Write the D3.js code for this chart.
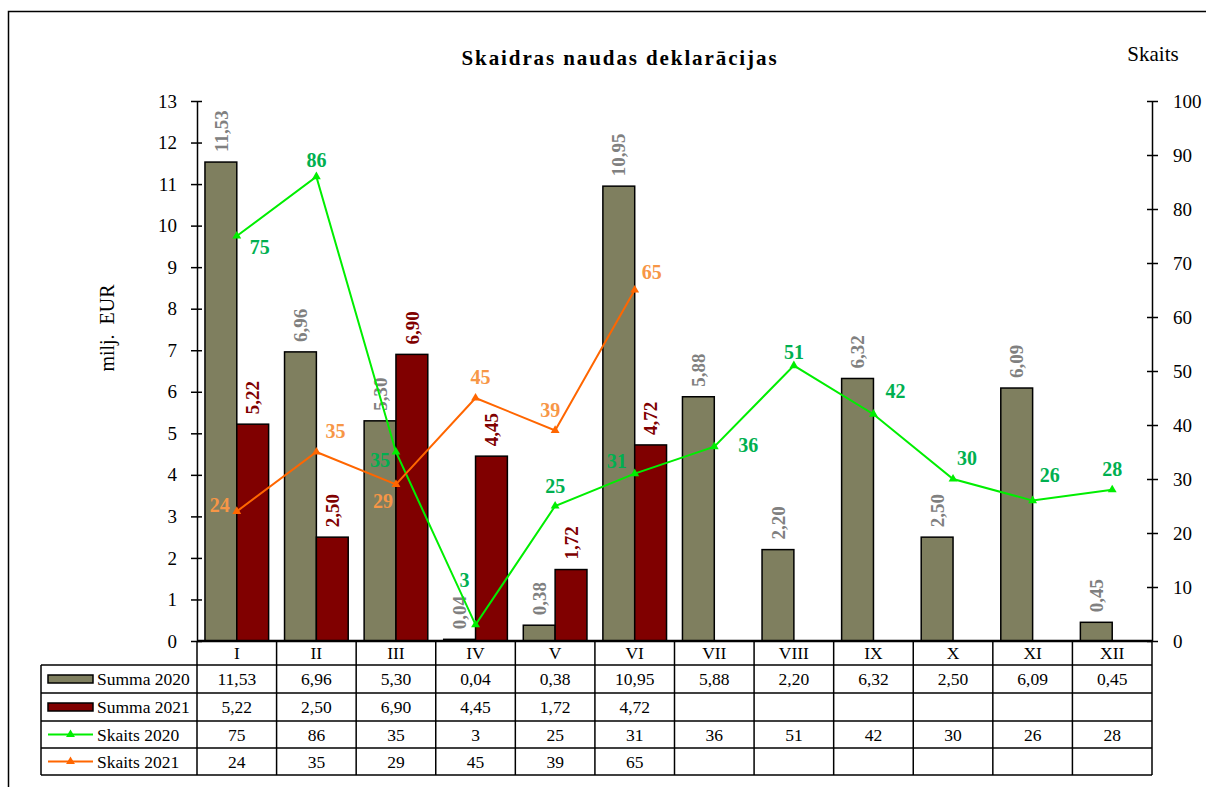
<!DOCTYPE html>
<html>
<head>
<meta charset="utf-8">
<script src="https://cdn.jsdelivr.net/npm/d3@7"></script>
<style>
  body { margin: 0; background: #fff; }
  svg { display: block; font-family: "Liberation Serif", "Times New Roman", serif; }
</style>
</head>
<body>
<svg width="1206" height="787"></svg>
<script>
// data
var months = ["I", "II", "III", "IV", "V", "VI", "VII", "VIII", "IX", "X", "XI", "XII"];
var summa2020 = [11.53, 6.96, 5.30, 0.04, 0.38, 10.95, 5.88, 2.20, 6.32, 2.50, 6.09, 0.45];
var summa2021 = [5.22, 2.50, 6.90, 4.45, 1.72, 4.72, null, null, null, null, null, null];
var skaits2020 = [75, 86, 35, 3, 25, 31, 36, 51, 42, 30, 26, 28];
var skaits2021 = [24, 35, 29, 45, 39, 65, null, null, null, null, null, null];
var leftTicks = d3.range(0, 14);
var rightTicks = d3.range(0, 101, 10);
var seriesNames = ["Summa 2020", "Summa 2021", "Skaits 2020", "Skaits 2021"];

// label nudges (px) for the line value labels, as Excel placed them
var lab2020 = [[23, 11], [0, -17], [-16, 8], [-11, -45], [0, -20], [-18, -13], [34, -2], [0, -14], [22, -23], [14, -21], [17, -26], [0, -21]];
var lab2021 = [[-17, -6], [19, -21], [-13, 17], [5, -21], [-5, -20], [17, -18]];

var fmt = function(v) { return v.toFixed(2).replace(".", ","); };

var svg = d3.select("svg");
var plotL = 197, plotR = 1152, plotT = 101, base = 641;

var x = d3.scaleBand().domain(months).range([plotL, plotR]).padding(0);
var xs = d3.scaleBand().domain(["2020", "2021"]).range([0, x.bandwidth()]).paddingInner(0).paddingOuter(0.25);
var yL = d3.scaleLinear().domain([0, 13]).range([base, plotT]);
var yR = d3.scaleLinear().domain([0, 100]).range([base, plotT]);

var col2020 = "#7f7f5f", col2021 = "#800000";
var green = "#00ee00", orange = "#ff6600";
var greenTxt = "#00b050", orangeTxt = "#f79646";

// outer frame
svg.append("rect")
    .attr("x", 8.5).attr("y", 11.5)
    .attr("width", 1300).attr("height", 900)
    .attr("fill", "none").attr("stroke", "#000").attr("stroke-width", 1.5);

// title and axis titles
svg.append("text")
    .attr("x", 620).attr("y", 65)
    .attr("text-anchor", "middle")
    .style("font-size", "21px").style("font-weight", "bold")
    .style("letter-spacing", "1.9px")
    .text("Skaidras naudas deklarācijas");

svg.append("text")
    .attr("x", 1153).attr("y", 61)
    .attr("text-anchor", "middle")
    .style("font-size", "21px")
    .text("Skaits");

svg.append("text")
    .attr("transform", "translate(114,328) rotate(-90)")
    .attr("text-anchor", "middle")
    .style("font-size", "20px")
    .style("white-space", "pre")
    .text("milj.  EUR");

// bars
var bars = svg.append("g");
months.forEach(function(m, i) {
    [["2020", summa2020[i], col2020, "#808080"], ["2021", summa2021[i], col2021, col2021]].forEach(function(s) {
        if (s[1] == null) return;
        var bx = x(m) + xs(s[0]);
        bars.append("rect")
            .attr("x", bx).attr("y", yL(s[1]))
            .attr("width", xs.bandwidth()).attr("height", base - yL(s[1]))
            .attr("fill", s[2]).attr("stroke", "#000").attr("stroke-width", 1.5);
        bars.append("text")
            .attr("transform", "translate(" + (bx + xs.bandwidth() / 2) + "," + (yL(s[1]) - 10) + ") rotate(-90)")
            .attr("dy", "0.35em")
            .attr("fill", s[3])
            .style("font-size", "19px").style("font-weight", "bold")
            .text(fmt(s[1]));
    });
});

// axes
var axL = svg.append("g")
    .attr("transform", "translate(" + plotL + ",0)")
    .call(d3.axisLeft(yL).tickValues(leftTicks).tickSize(6).tickSizeOuter(0).tickPadding(14));
axL.selectAll(".tick line").attr("x1", 5);

var axR = svg.append("g")
    .attr("transform", "translate(" + plotR + ",0)")
    .call(d3.axisRight(yR).tickValues(rightTicks).tickSize(6).tickSizeOuter(0).tickPadding(15));
axR.selectAll(".tick line").attr("x1", -5);

[axL, axR].forEach(function(a) {
    a.select(".domain").attr("stroke-width", 1.5);
    a.selectAll(".tick line").attr("stroke-width", 1.5);
    a.selectAll("text").style("font-size", "19px").style("font-family", "Liberation Serif, serif").attr("fill", "#000");
});

// lines
var tri = d3.symbol().type(d3.symbolTriangle).size(34);
function drawLine(vals, color, txtColor, offs) {
    var pts = vals.map(function(v, i) { return {m: months[i], v: v, i: i}; }).filter(function(d) { return d.v != null; });
    var line = d3.line()
        .x(function(d) { return x(d.m) + x.bandwidth() / 2; })
        .y(function(d) { return yR(d.v); });
    var g = svg.append("g");
    g.append("path").datum(pts)
        .attr("d", line).attr("fill", "none")
        .attr("stroke", color).attr("stroke-width", 2);
    g.selectAll("path.mk").data(pts).enter().append("path")
        .attr("class", "mk")
        .attr("d", tri)
        .attr("transform", function(d) { return "translate(" + (x(d.m) + x.bandwidth() / 2) + "," + yR(d.v) + ")"; })
        .attr("fill", color);
    g.selectAll("text").data(pts).enter().append("text")
        .attr("x", function(d) { return x(d.m) + x.bandwidth() / 2 + offs[d.i][0]; })
        .attr("y", function(d) { return yR(d.v) + offs[d.i][1]; })
        .attr("dy", "0.35em")
        .attr("text-anchor", "middle")
        .attr("fill", txtColor)
        .style("font-size", "20px").style("font-weight", "bold")
        .text(function(d) { return d.v; });
}
drawLine(skaits2020, green, greenTxt, lab2020);
drawLine(skaits2021, orange, orangeTxt, lab2021);

// data table
var rowY = [641, 665, 693, 721, 748, 775];
var legL = 41;
var tbl = svg.append("g").attr("stroke", "#000").attr("stroke-width", 1.5);
tbl.append("line").attr("x1", plotL).attr("x2", plotR).attr("y1", base).attr("y2", base).attr("stroke-width", 2.5);
rowY.slice(1).forEach(function(yy) {
    tbl.append("line").attr("x1", legL).attr("x2", plotR).attr("y1", yy).attr("y2", yy);
});
tbl.append("line").attr("x1", legL).attr("x2", legL).attr("y1", rowY[1]).attr("y2", rowY[5]);
months.concat([null]).forEach(function(m) {
    var xx = m ? x(m) : plotR;
    tbl.append("line").attr("x1", xx).attr("x2", xx).attr("y1", base).attr("y2", rowY[5]);
});

var cellText = svg.append("g").style("font-size", "17.5px").attr("text-anchor", "middle");
months.forEach(function(m, i) {
    var cx = x(m) + x.bandwidth() / 2;
    var rowsVals = [m, summa2020[i] == null ? "" : fmt(summa2020[i]), summa2021[i] == null ? "" : fmt(summa2021[i]),
        skaits2020[i] == null ? "" : skaits2020[i], skaits2021[i] == null ? "" : skaits2021[i]];
    rowsVals.forEach(function(t, r) {
        cellText.append("text")
            .attr("x", cx).attr("y", (rowY[r] + rowY[r + 1]) / 2)
            .attr("dy", "0.35em")
            .text(t);
    });
});

// legend keys in the table
var legKeys = [{type: "bar", c: col2020}, {type: "bar", c: col2021}, {type: "line", c: green}, {type: "line", c: orange}];
legKeys.forEach(function(k, r) {
    var cy = (rowY[r + 1] + rowY[r + 2]) / 2;
    if (k.type === "bar") {
        svg.append("rect").attr("x", 48).attr("y", cy - 4).attr("width", 45).attr("height", 8)
            .attr("fill", k.c).attr("stroke", "#000").attr("stroke-width", 1.5);
    } else {
        svg.append("line").attr("x1", 48).attr("x2", 93).attr("y1", cy).attr("y2", cy)
            .attr("stroke", k.c).attr("stroke-width", 2);
        svg.append("path").attr("d", tri).attr("transform", "translate(70.5," + cy + ")").attr("fill", k.c);
    }
    svg.append("text").attr("x", 97).attr("y", cy).attr("dy", "0.35em")
        .style("font-size", "17.5px")
        .text(seriesNames[r]);
});
</script>
</body>
</html>
